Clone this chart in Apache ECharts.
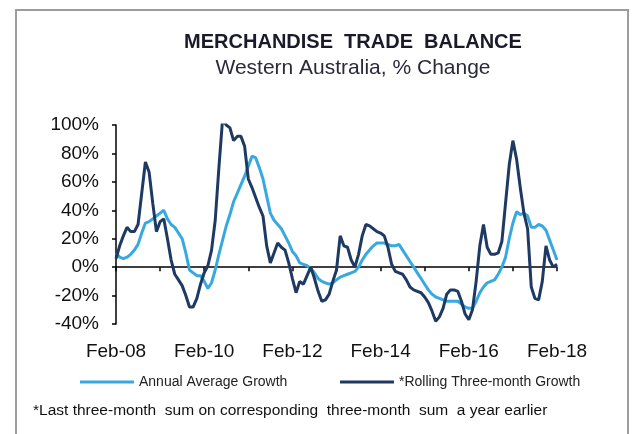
<!DOCTYPE html>
<html>
<head>
<meta charset="utf-8">
<script src="https://cdn.jsdelivr.net/npm/echarts@6/dist/echarts.min.js"></script>
<style>
  html, body { margin: 0; padding: 0; background: #fff; }
  #main { width: 635px; height: 434px; }
</style>
</head>
<body>
<div id="main"></div>
<script>
// monthly, Feb-08 .. Feb-18
var startYear = 2008
var startMonth = 1 // Feb
var monthNames = ['Jan','Feb','Mar','Apr','May','Jun','Jul','Aug','Sep','Oct','Nov','Dec']

var annualAvg = [
  10, 7, 6, 7, 9, 12, 16, 24, 31, 32,
  34, 36, 38, 40, 34, 30, 28, 24, 20, 10,
  -2, -4, -6, -6, -10, -15, -11, -2, 9, 19,
  29, 37, 46, 52, 58, 64, 71, 78, 77, 70,
  62, 50, 38, 33, 30, 27, 22, 17, 11, 8,
  3, 2, 1, -1, -4, -8, -10, -11, -12, -11,
  -9, -7, -6, -5, -4, -3, 0, 5, 9, 12,
  15, 17, 17, 17, 16, 15, 15, 16, 12, 8,
  4, 0, -4, -8, -12, -16, -19, -21, -22, -23,
  -24, -24, -24, -24, -26, -28, -29, -29, -24, -18,
  -14, -11, -10, -9, -5, 0, 7, 20, 31, 39,
  37, 38, 36, 28, 28, 30, 29, 26, 19, 12,
  5
]

var rolling3m = [
  6, 15, 22, 28, 25, 25, 30, 52, 74, 67,
  45, 25, 32, 34, 20, 5, -5, -9, -13, -20,
  -28, -28, -22, -12, -4, 1, 12, 33, 70, 104,
  100, 98, 89, 92, 92, 85, 62, 56, 49, 42,
  36, 15, 3, 10, 17, 14, 12, 3, -8, -18,
  -10, -12, -6, 0, -8, -17, -24, -23, -19, -10,
  -2, 22, 15, 14, 5, 0, 9, 22, 30, 29,
  27, 25, 24, 22, 14, 2, -3, -4, -5, -9,
  -14, -16, -17, -18, -21, -25, -31, -38, -35, -29,
  -19, -16, -16, -17, -24, -33, -37, -30, -10, 15,
  30, 14, 9, 9, 10, 18, 45, 72, 89, 76,
  56, 38, 27, -14, -22, -23, -10, 15, 5, 0,
  2
]

var months = []
for (var i = 0; i < annualAvg.length; i++) {
  var m = (startMonth + i) % 12
  var y = startYear + Math.floor((startMonth + i) / 12)
  months.push(monthNames[m] + '-' + String(y).slice(2))
}

var lightBlue = '#38a9e0'
var navy = '#1e3a62'
var font = 'Arial, "Liberation Sans", sans-serif'

var chart = echarts.init(document.getElementById('main'), null, { renderer: 'canvas' })

var option = {
  backgroundColor: '#fff',
  animation: false,
  grid: {
    left: 116,
    right: 78,
    top: 125,
    bottom: 110
  },
  legend: [
    {
      left: 80,
      top: 375,
      padding: 0,
      icon: 'rect',
      itemWidth: 54,
      itemHeight: 3,
      textStyle: { fontFamily: font, fontSize: 14, color: '#222' },
      data: ['Annual Average Growth']
    },
    {
      left: 340,
      top: 375,
      padding: 0,
      icon: 'rect',
      itemWidth: 54,
      itemHeight: 3,
      textStyle: { fontFamily: font, fontSize: 14, color: '#222' },
      data: ['*Rolling Three-month Growth']
    }
  ],
  xAxis: {
    type: 'category',
    data: months,
    boundaryGap: false,
    axisLine: { onZero: true, lineStyle: { color: '#000', width: 1.5 } },
    axisTick: { show: true, interval: 11, length: 4, lineStyle: { color: '#000', width: 1.5 } },
    axisLabel: {
      interval: 23,
      margin: 18,
      fontFamily: font,
      fontSize: 19,
      color: '#111'
    },
    splitLine: { show: false }
  },
  yAxis: {
    type: 'value',
    min: -40,
    max: 100,
    interval: 20,
    axisLine: { show: true, lineStyle: { color: '#000', width: 1.5 } },
    axisTick: { show: true, length: 4, lineStyle: { color: '#000', width: 1.5 } },
    axisLabel: {
      formatter: '{value}%',
      margin: 17,
      fontFamily: font,
      fontSize: 19,
      color: '#111'
    },
    splitLine: { show: false }
  },
  series: [
    {
      name: 'Annual Average Growth',
      type: 'line',
      data: annualAvg,
      symbol: 'none',
      itemStyle: { color: lightBlue },
      lineStyle: { color: lightBlue, width: 3 }
    },
    {
      name: '*Rolling Three-month Growth',
      type: 'line',
      data: rolling3m,
      symbol: 'none',
      itemStyle: { color: navy },
      lineStyle: { color: navy, width: 3 }
    }
  ],
  graphic: [
    {
      type: 'rect',
      silent: true,
      shape: { x: 16, y: 10, width: 612, height: 440 },
      style: { fill: 'none', stroke: '#9c9c9c', lineWidth: 2 }
    },
    {
      type: 'text',
      x: 353,
      y: 42,
      style: {
        text: 'MERCHANDISE  TRADE  BALANCE',
        textAlign: 'center',
        textVerticalAlign: 'middle',
        fontFamily: font,
        fontSize: 20,
        fontWeight: 'bold',
        fill: '#1a1a2a'
      }
    },
    {
      type: 'text',
      x: 353,
      y: 68,
      style: {
        text: 'Western Australia, % Change',
        textAlign: 'center',
        textVerticalAlign: 'middle',
        fontFamily: font,
        fontSize: 21,
        fill: '#2a2a3a'
      }
    },
    {
      type: 'text',
      x: 33,
      y: 411,
      style: {
        text: '*Last three-month  sum on corresponding  three-month  sum  a year earlier',
        textVerticalAlign: 'middle',
        fontFamily: font,
        fontSize: 15.5,
        fill: '#111'
      }
    }
  ]
}

chart.setOption(option)
</script>
</body>
</html>
